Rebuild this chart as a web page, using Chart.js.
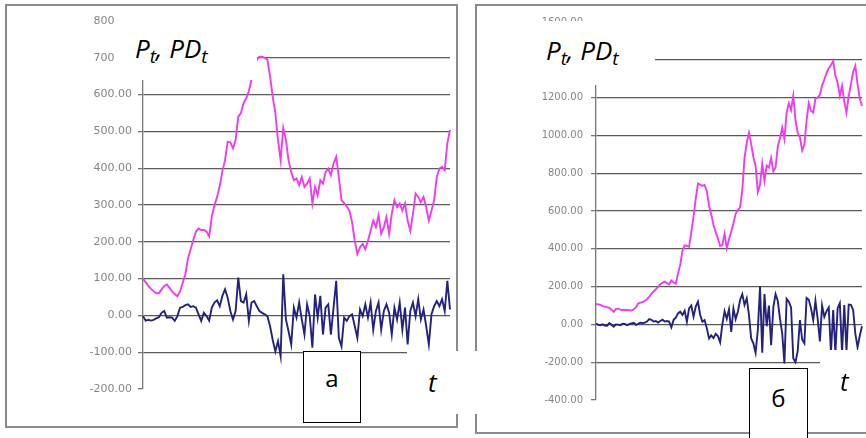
<!DOCTYPE html>
<html>
<head>
<meta charset="utf-8">
<script src="https://cdn.jsdelivr.net/npm/chart.js@4"></script>
<style>
  html, body { margin: 0; padding: 0; background: #fff; }
  #stage { position: relative; width: 866px; height: 438px; overflow: hidden; background: #fff; }
  .frame { position: absolute; border: 2px solid #8a8a8a; box-sizing: border-box; }
  canvas { position: absolute; top: 0; filter: blur(0.6px); }
  .mask { position: absolute; background: #fff; }
  .lbl { position: absolute; font-family: "Open Sans", sans-serif; font-style: italic; font-size: 26px; line-height: 26px; color: #000; white-space: nowrap; }
  .lbl sub { font-size: 19px; line-height: 0; vertical-align: -5px; }
  .tag { position: absolute; background: #fff; border: 1.5px solid #000; box-sizing: border-box; font-family: "Open Sans", sans-serif; font-size: 24px; line-height: 24px; text-align: center; color: #000; }
</style>
</head>
<body>
<div id="stage">
  <div class="frame" style="left:5px; top:4px; width:453px; height:424px;"></div>
  <div class="frame" style="left:475px; top:4px; width:400px; height:430px;"></div>

  <canvas id="chartA" width="460" height="438" style="left:0px; width:460px; height:438px;"></canvas>
  <canvas id="chartB" width="396" height="438" style="left:470px; width:396px; height:438px;"></canvas>

  <!-- white label panels laid over the plots -->
  <div class="mask" style="left:115px; top:14px; width:142px; height:66px;"></div>
  <div class="mask" style="left:540px; top:21px; width:115px; height:64px;"></div>
  <div class="mask" style="left:407px; top:351px; width:75px; height:63px;"></div>
  <div class="mask" style="left:820px; top:350px; width:46px; height:45px;"></div>

  <div class="lbl" style="left:135px; top:35px;">P<sub>t</sub>, PD<sub>t</sub></div>
  <div class="lbl" style="left:546px; top:37px;">P<sub>t</sub>, PD<sub>t</sub></div>
  <div class="lbl" style="left:428px; top:369px;">t</div>
  <div class="lbl" style="left:840px; top:368px;">t</div>

  <div class="tag" style="left:303px; top:351px; width:58px; height:72px; padding-top:14px;">а</div>
  <div class="tag" style="left:749px; top:368px; width:59px; height:80px; padding-top:17px;">б</div>
</div>

<script>
// Panel (а): price P_t and its first difference PD_t
const pA = [100,90,80,72,66,60,60,70,80,84,
            75,65,58,52,65,88,112,155,180,205,
            228,236,232,232,228,215,268,300,322,352,
            392,422,472,470,454,477,540,550,577,590,
            609,641,668,695,703,703,700,695,650,595,
            550,477,422,509,477,422,390,367,372,354,
            376,349,358,372,304,349,326,367,358,390,
            399,381,413,431,376,313,305,296,285,253,
            203,167,185,194,180,203,230,258,240,272,
            222,240,267,222,276,313,294,304,285,304,
            258,230,276,331,322,308,322,294,258,285,
            313,376,399,404,395,468,504];
const pdA = [-2,-14,-12,-14,-12,-8,-5,7,12,-6,
             -5,-6,-15,-2,21,23,28,30,23,25,
             21,3,-15,7,-2,-14,21,35,41,25,
             53,71,48,12,-11,12,103,39,35,57,
             -15,35,39,25,12,7,3,-2,-29,-66,
             -98,-70,-111,112,-11,-43,-79,21,-6,35,
             -11,-52,30,-2,-88,57,-6,53,-52,21,
             30,-52,21,94,-61,-84,-6,-15,-2,3,
             -29,-61,16,-2,30,-6,35,-39,12,35,
             -39,12,30,7,-52,21,-11,35,-39,21,
             -79,12,35,-2,44,-11,16,-29,-79,3,
             25,39,25,44,12,94,16];

// Panel (б)
const pB = [108,106,103,97,94,91,87,78,67,82,
            83,78,76,76,76,75,73,80,90,110,
            115,118,125,133,145,162,175,186,198,212,
            220,226,218,212,232,222,215,270,315,390,
            418,416,410,490,572,665,745,740,733,738,
            705,628,580,527,488,455,415,420,480,404,
            450,492,535,585,605,620,710,880,961,1014,
            955,885,840,700,740,850,760,840,830,880,
            810,830,940,985,1040,980,1120,1170,1135,1210,
            1080,1014,990,920,950,1080,1170,1130,1120,1195,
            1200,1215,1265,1295,1330,1355,1372,1395,1315,1280,
            1209,1262,1180,1120,1209,1270,1335,1368,1270,1195,
            1156];
const pdB = [5,-2,-4,0,-6,-7,7,-2,-12,0,
             -1,-4,4,2,-4,1,5,8,-2,3,
             9,6,9,15,28,24,15,18,10,18,
             25,15,18,15,-15,24,35,58,67,50,
             72,14,85,100,41,94,120,50,14,23,
             -21,-74,-58,-72,-50,-62,-95,0,70,30,
             80,-40,85,28,67,129,160,103,138,50,
             -74,-100,-150,-30,200,-150,160,-10,100,-110,
             90,160,125,30,-48,-207,135,120,90,-180,
             -200,-140,23,-80,-100,140,130,85,23,125,
             30,-90,100,40,70,90,-150,76,-150,85,
             112,-150,103,-140,105,103,76,-50,-120,-60,
             -10];

// time index labels
const tA = pA.map((_, i) => i + 1);
const tB = pB.map((_, i) => i + 1);

// y-axis ranges and steps
const yA = { min: -200, max: 800, step: 100 };
const yB = { min: -400, max: 1600, step: 200 };

const MAGENTA = '#ee3cee';
const NAVY = '#23237d';

function makeChart(id, labels, p, pd, range, cfg) {
  return new Chart(document.getElementById(id), {
    type: 'line',
    data: {
      labels: labels,
      datasets: [
        { data: p, borderColor: MAGENTA, borderWidth: 1.9, pointRadius: 0, tension: 0, fill: false },
        { data: pd, borderColor: NAVY, borderWidth: 1.9, pointRadius: 0, tension: 0, fill: false }
      ]
    },
    options: {
      responsive: false,
      animation: false,
      devicePixelRatio: 1,
      layout: { padding: cfg.padding },
      plugins: { legend: { display: false }, tooltip: { enabled: false }, title: { display: false } },
      scales: {
        x: { display: false },
        y: {
          position: 'left',
          min: range.min,
          max: range.max,
          afterFit: (scale) => { scale.width = cfg.axisWidth; },
          ticks: {
            stepSize: range.step,
            padding: cfg.tickPad,
            color: '#858585',
            font: { family: 'DejaVu Sans', size: cfg.fontSize },
            callback: (v) => Number(v).toFixed(2)
          },
          grid: {
            color: (c) => (c.tick && (c.tick.value === range.min || c.tick.value === range.max)) ? 'rgba(0,0,0,0)' : '#5a5a5a',
            tickColor: '#777777',
            tickLength: 5,
            lineWidth: 1.3
          },
          border: { display: true, color: '#777777', width: 1.3 }
        }
      }
    }
  });
}

makeChart('chartA', tA, pA, pdA, yA, {
  padding: { left: 0, top: 21, right: 10, bottom: 49 },
  axisWidth: 143, tickPad: 6, fontSize: 11
});
makeChart('chartB', tB, pB, pdB, yB, {
  padding: { left: 0, top: 22, right: 4, bottom: 38 },
  axisWidth: 126, tickPad: 8, fontSize: 10
});
</script>
</body>
</html>
